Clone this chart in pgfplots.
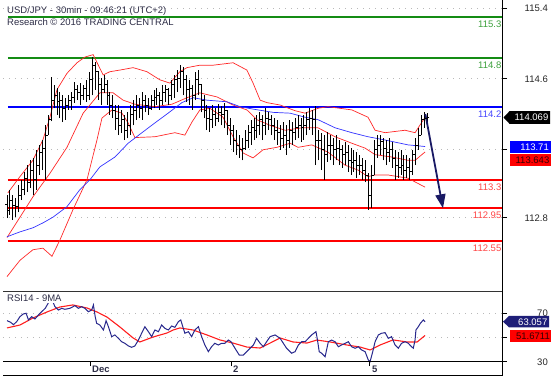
\documentclass[border=0pt]{standalone}
\usepackage{pgfplots}
\pgfplotsset{compat=1.18}
\usepackage{pgfplotstable}
\usepackage{fontspec}
\setmainfont{Liberation Sans}
\usetikzlibrary{arrows.meta}

\definecolor{lvgreen}{RGB}{20,140,20}
\definecolor{lvblue}{RGB}{0,0,255}
\definecolor{lvred}{RGB}{255,0,0}
\definecolor{bbred}{RGB}{255,40,40}
\definecolor{mablue}{RGB}{50,50,255}
\definecolor{rsinavy}{RGB}{40,40,140}
\definecolor{rsired}{RGB}{255,30,30}
\definecolor{txtdark}{RGB}{45,45,70}
\definecolor{gridgray}{RGB}{185,185,185}
\definecolor{lbgreen}{RGB}{60,160,60}
\definecolor{lbblue}{RGB}{70,70,255}
\definecolor{lbred}{RGB}{255,70,70}
\definecolor{arrownavy}{RGB}{25,25,100}
\definecolor{boxnavy}{RGB}{30,30,120}

\pgfplotstableread{
x h l o c
0 113.11 112.83 113.00 112.93
1 113.18 112.87 112.93 113.05
2 113.11 112.81 113.05 112.99
3 113.08 112.84 112.99 112.97
4 113.24 112.90 112.97 113.11
5 113.30 113.05 113.11 113.18
6 113.40 113.11 113.18 113.32
7 113.48 113.15 113.32 113.27
8 113.54 113.20 113.27 113.42
9 113.57 113.11 113.42 113.30
10 113.67 113.18 113.30 113.48
11 113.73 113.36 113.48 113.64
12 113.79 113.42 113.64 113.69
13 113.97 113.30 113.69 113.85
14 114.10 113.85 113.85 114.04
15 114.56 114.02 114.04 114.28
16 114.47 114.18 114.28 114.34
17 114.43 114.10 114.34 114.26
18 114.38 114.06 114.26 114.28
19 114.34 114.01 114.28 114.18
20 114.31 114.04 114.18 114.22
21 114.34 114.16 114.22 114.28
22 114.38 114.16 114.28 114.31
23 114.50 114.25 114.31 114.41
24 114.47 114.28 114.41 114.37
25 114.49 114.22 114.37 114.34
26 114.47 114.28 114.34 114.43
27 114.53 114.26 114.43 114.34
28 114.63 114.28 114.34 114.53
29 114.81 114.34 114.53 114.71
30 114.75 114.41 114.71 114.63
31 114.64 114.28 114.63 114.47
32 114.55 114.22 114.47 114.41
33 114.59 114.37 114.41 114.47
34 114.53 114.22 114.47 114.34
35 114.38 114.10 114.34 114.22
36 114.34 114.06 114.22 114.16
37 114.22 113.91 114.16 114.06
38 114.22 113.85 114.06 113.97
39 114.16 113.88 113.97 114.04
40 114.10 113.79 114.04 113.91
41 114.13 113.81 113.91 113.97
42 114.22 113.85 113.97 114.10
43 114.28 113.97 114.10 114.16
44 114.34 114.04 114.16 114.22
45 114.31 114.06 114.22 114.18
46 114.38 114.04 114.18 114.28
47 114.34 114.13 114.28 114.22
48 114.31 114.10 114.22 114.18
49 114.34 114.16 114.18 114.28
50 114.41 114.18 114.28 114.32
51 114.43 114.22 114.32 114.34
52 114.38 114.16 114.34 114.28
53 114.47 114.22 114.28 114.38
54 114.47 114.26 114.38 114.41
55 114.43 114.22 114.41 114.34
56 114.53 114.28 114.34 114.47
57 114.59 114.31 114.47 114.53
58 114.65 114.38 114.53 114.55
59 114.71 114.43 114.55 114.63
60 114.69 114.34 114.63 114.53
61 114.59 114.26 114.53 114.41
62 114.53 114.22 114.41 114.43
63 114.47 114.16 114.43 114.34
64 114.63 114.28 114.34 114.53
65 114.65 114.34 114.53 114.47
66 114.48 114.13 114.47 114.28
67 114.34 114.06 114.28 114.16
68 114.22 113.91 114.16 114.06
69 114.18 113.89 114.06 114.04
70 114.22 113.94 114.04 114.10
71 114.18 113.96 114.10 114.06
72 114.23 114.01 114.06 114.13
73 114.21 113.97 114.13 114.10
74 114.25 113.94 114.10 114.16
75 114.16 113.85 114.16 113.97
76 114.06 113.73 113.97 113.91
77 113.97 113.64 113.91 113.79
78 113.91 113.61 113.79 113.73
79 113.85 113.57 113.73 113.67
80 113.81 113.54 113.67 113.69
81 113.91 113.67 113.69 113.79
82 113.97 113.69 113.79 113.89
83 114.04 113.73 113.89 113.94
84 114.06 113.79 113.94 113.91
85 114.10 113.81 113.91 113.97
86 114.13 113.85 113.97 114.04
87 114.10 113.79 114.04 113.97
88 114.18 113.85 113.97 114.06
89 114.13 113.91 114.06 114.04
90 114.10 113.85 114.04 113.97
91 114.06 113.79 113.97 113.91
92 114.04 113.73 113.91 113.89
93 113.97 113.67 113.89 113.81
94 114.01 113.69 113.81 113.85
95 113.97 113.61 113.85 113.79
96 114.04 113.69 113.79 113.91
97 114.01 113.73 113.91 113.89
98 114.06 113.79 113.89 113.94
99 114.10 113.81 113.94 113.97
100 114.06 113.77 113.97 113.94
101 114.10 113.79 113.94 113.97
102 114.13 113.85 113.97 114.04
103 114.18 113.91 114.04 114.06
104 114.16 113.85 114.06 114.04
105 114.21 113.48 114.04 113.79
106 113.91 113.54 113.79 113.79
107 113.88 113.42 113.79 113.67
108 113.85 113.30 113.67 113.61
109 113.89 113.52 113.61 113.73
110 113.85 113.54 113.73 113.73
111 113.81 113.48 113.73 113.67
112 113.85 113.54 113.67 113.69
113 113.79 113.48 113.69 113.67
114 113.73 113.45 113.67 113.61
115 113.77 113.48 113.61 113.64
116 113.73 113.40 113.64 113.54
117 113.69 113.36 113.54 113.52
118 113.67 113.40 113.52 113.54
119 113.64 113.32 113.54 113.48
120 113.61 113.36 113.48 113.48
121 113.57 113.30 113.48 113.42
122 113.54 113.27 113.42 113.36
123 113.38 112.93 113.36 113.11
124 113.48 112.95 113.11 113.36
125 113.79 113.36 113.36 113.67
126 113.85 113.57 113.67 113.73
127 113.85 113.61 113.73 113.77
128 113.81 113.54 113.77 113.69
129 113.79 113.48 113.69 113.64
130 113.81 113.52 113.64 113.67
131 113.77 113.45 113.67 113.57
132 113.67 113.30 113.57 113.48
133 113.64 113.32 113.48 113.45
134 113.67 113.36 113.45 113.48
135 113.61 113.30 113.48 113.42
136 113.61 113.32 113.42 113.45
137 113.57 113.30 113.45 113.40
138 113.67 113.36 113.40 113.61
139 113.81 113.48 113.61 113.73
140 113.94 113.67 113.73 113.85
141 114.10 113.85 113.85 114.04
142 114.13 113.94 114.04 114.06
143 114.12 113.97 114.06 114.069
}\bars

\pgfplotstableread{
x y
0.3 113.14
4.4 113.34
8.8 113.54
12.2 113.79
14.6 114.07
17 114.41
20.4 114.61
23.8 114.74
26.5 114.81
29.3 114.84
32.7 114.59
35 114.63
38.4 114.65
42.9 114.68
47.6 114.63
52 114.53
55.4 114.49
58.8 114.63
61.2 114.68
65.6 114.71
70.1 114.71
76.9 114.74
81.6 114.65
83.7 114.49
86.1 114.28
88.4 114.25
92.9 114.22
98 114.15
101.4 114.12
105.8 114.18
109.2 114.20
117.3 114.16
122.8 114.07
125.2 113.91
128.6 113.88
135.4 113.91
138.8 113.88
142.2 114.07
}\bbup

\pgfplotstableread{
x y
0 112.59
8.8 113.09
14.6 113.38
20.4 113.70
25.9 114.12
31.6 114.37
36.1 114.37
39.5 114.28
43.5 114.23
50.3 114.20
56.1 114.23
61.2 114.31
65.6 114.37
71.4 114.32
76.9 114.22
81.6 114.16
85 114.04
89.5 113.97
94.6 113.91
100.3 113.94
105.8 113.94
111.6 113.83
117.3 113.75
121.8 113.69
125.2 113.61
131 113.58
136.4 113.54
138.8 113.54
142.2 113.643
}\bbmid

\pgfplotstableread{
x y
0 112.11
4.4 112.31
8.8 112.44
12.2 112.46
15.3 112.36
18 112.56
22.4 112.93
27.2 113.30
30.6 113.79
32.3 114.06
35.7 114.16
39.1 114.12
41.2 114.00
43.5 113.82
50.3 113.83
57.1 113.88
60.5 113.85
62.9 114.01
65.6 114.16
69 114.18
73.5 114.07
76.9 113.83
80.3 113.63
83.7 113.57
87.1 113.67
91.8 113.70
96.3 113.75
99 113.70
103.7 113.73
109.2 113.64
115 113.48
119.4 113.42
122.8 113.34
125.2 113.36
129.6 113.36
136.4 113.32
142.2 113.21
}\bblow

\pgfplotstableread{
x y
0 112.60
4.4 112.66
8.8 112.71
12.2 112.77
15.6 112.84
20.4 112.97
24.8 113.18
28.2 113.30
31.6 113.46
36.7 113.58
41.2 113.75
45.9 113.88
50.3 114.00
54.8 114.12
59.5 114.25
63.3 114.31
68 114.28
74.8 114.26
79.3 114.20
83.7 114.17
90.5 114.13
96.3 114.12
101.4 114.07
105.8 114.04
111.6 113.94
117.3 113.88
122.8 113.83
128.6 113.79
136.4 113.73
142.2 113.71
}\mafifty

\pgfplotstableread{
x y
0 63.9
1.2 62.6
2.2 60.6
3.3 63.1
4.4 67.2
5.5 69.4
6.5 70.0
7.3 64.5
8.4 67.2
9.5 65.3
10.7 68.6
11.8 71.3
13 74.1
14 78.3
15 83.0
16.3 75.5
17.5 72.7
18.6 74.1
19.7 73.3
21.4 74.1
23.1 76.3
24.3 74.1
25.4 75.5
26.5 74.1
27.7 71.3
28.8 72.7
29.4 76.9
30 67.2
30.5 61.7
31.6 60.3
32.8 56.2
33.7 63.9
34.5 58.9
35.6 50.7
36.7 52.1
37.9 49.3
39 46.5
40.1 45.2
41.3 43.0
42.4 41.9
43.5 43.0
44.7 47.9
45.8 53.5
46.9 58.9
48.1 54.8
49.2 50.7
50.3 56.2
51.5 54.8
52.6 60.3
53.7 57.6
54.9 56.2
56 59.5
57.1 58.4
58.3 63.1
59.1 64.5
59.8 58.9
60.5 53.5
61.7 54.8
62.8 50.7
63.9 56.2
65.1 58.9
66.2 50.7
67.3 43.8
68.5 38.3
69.6 42.4
70.7 45.2
71.9 43.8
73 45.2
74.1 45.2
75.3 47.9
76.2 46.5
77.9 39.7
79 35.5
80.4 35.5
82.1 39.7
83.8 43.8
84.9 49.3
86.1 45.2
87.2 42.4
88.3 46.5
89.5 50.7
91.2 52.1
92.9 49.3
94 45.2
95.1 41.1
96.8 37.0
98 38.3
99.1 43.8
100.2 46.5
101.4 46.5
102.5 49.3
103.6 52.1
105.1 54.8
105.6 48.0
106.2 38.3
107 37.0
108.2 34.1
109.3 46.5
110.4 47.9
111.6 46.5
112.7 42.4
113.8 43.8
115 45.2
116.1 46.5
117.2 42.4
118.4 41.1
119.5 42.4
120.6 39.7
121.8 38.3
122.9 31.4
123.5 30.0
124.4 38.3
125.2 46.5
126.3 52.1
127.4 53.5
128.6 54.0
129.7 49.3
130.8 50.7
132 43.8
133.1 41.1
134.2 45.2
135.4 46.5
136.5 45.2
137.6 42.4
138.2 41.1
138.8 48.0
139.1 56.2
139.9 58.9
140.6 61.7
141.6 64.5
142.2 63.057
}\rsi

\pgfplotstableread{
x y
0 57.9
4.4 60.3
8.8 66.1
13.6 71.1
18 75.2
22.4 76.9
27.2 74.4
30.6 71.1
34 66.9
38.4 58.7
42.9 49.6
45.2 46.3
49.7 50.4
54.4 53.7
56.5 56.2
58.8 57.9
63.3 56.2
68 52.1
72.4 48.0
76.9 45.4
81.6 42.1
86.1 41.3
89.5 45.4
92.9 49.6
97.3 46.3
102 45.4
105.4 47.9
109.9 46.3
115.6 43.8
120.1 42.1
123.5 39.7
126.9 43.8
131.3 48.0
136.1 46.3
139.5 46.3
142.2 51.6711
}\rsima

\begin{document}
\begin{tikzpicture}[font=\fontsize{9.5}{11}\selectfont]
\useasboundingbox (0pt,0pt) rectangle (557pt,379pt);

% ---------------- price panel ----------------
\begin{axis}[
  at={(3pt,88pt)}, anchor=south west, scale only axis,
  width=499pt, height=291pt,
  xmin=-1.36, xmax=168.37, ymin=111.933, ymax=115.512,
  axis line style={draw=none},
  xtick=\empty,
  ytick={112.834,113.676,114.544,115.41}, yticklabels={},
  ytick pos=right, tick align=outside, major tick length=5pt,
  tick style={black, line width=0.6pt},
  ymajorgrids, grid style={gridgray, dash pattern=on 1pt off 5pt, line width=0.8pt},
  clip=false,
]
% level lines
\addplot[lvgreen, line width=1.8pt] coordinates {(0.3,115.3) (168.37,115.3)};
\addplot[lvgreen, line width=1.8pt] coordinates {(0.3,114.8) (168.37,114.8)};
\addplot[lvblue, line width=1.8pt] coordinates {(0.3,114.2) (168.37,114.2)};
\addplot[lvred, line width=1.8pt] coordinates {(0.3,113.3) (168.37,113.3)};
\addplot[lvred, line width=1.8pt] coordinates {(0.3,112.95) (168.37,112.95)};
\addplot[lvred, line width=1.8pt] coordinates {(0.3,112.55) (168.37,112.55)};
% indicators
\addplot[bbred, line width=0.7pt] table {\bbup};
\addplot[bbred, line width=0.7pt] table {\bbmid};
\addplot[bbred, line width=0.7pt] table {\bblow};
\addplot[mablue, line width=0.7pt] table {\mafifty};
% OHLC bars
\addplot[draw=none, mark=none, error bars/.cd, y dir=plus, y explicit, error mark=none,
  error bar style={draw=black, line width=0.9pt}]
  table[x=x, y=l, y error plus expr=\thisrow{h}-\thisrow{l}] {\bars};
\addplot[only marks, mark=-, mark size=0.9pt, black, mark options={line width=0.7pt}]
  table[x expr=\thisrow{x}+0.35, y=c] {\bars};
\addplot[only marks, mark=-, mark size=0.9pt, black, mark options={line width=0.7pt}]
  table[x expr=\thisrow{x}-0.35, y=o] {\bars};
% forecast arrow
\draw[arrownavy, line width=1.8pt, -{Triangle[width=10pt,length=14pt]}]
  (axis cs:142.3,114.11) -- (axis cs:148.3,112.95);
\end{axis}

% ---------------- RSI panel ----------------
\begin{axis}[
  at={(3pt,17.3pt)}, anchor=south west, scale only axis,
  width=499pt, height=70.7pt,
  xmin=-1.36, xmax=168.37, ymin=30, ymax=88.43,
  axis line style={draw=none},
  xtick={28.2,76.2,123.2}, xticklabels={}, xtick pos=bottom,
  minor x tick num=20,
  ytick={30,50,70}, yticklabels={}, ytick pos=right,
  tick align=outside, major tick length=4.5pt, minor tick length=1.5pt,
  tick style={black, line width=0.6pt},
  minor tick style={black!70, line width=0.5pt},
  ymajorgrids, grid style={gridgray, dash pattern=on 1pt off 5pt, line width=0.8pt},
  clip=false,
]
\addplot[rsired, line width=1.1pt] table {\rsima};
\addplot[rsinavy, line width=1pt] table {\rsi};
\end{axis}

\begin{scope}[x=1pt,y=1pt]
% frame lines
\draw[black, line width=0.8pt] (502,379) -- (502,3);
\draw[black!80, line width=0.8pt] (3,88) -- (502,88);
\draw[black, line width=0.8pt] (3,17.3) -- (502,17.3);
\draw[black, line width=0.8pt] (3,3.5) -- (502,3.5);

% titles
\node[anchor=base west, inner sep=0, text=txtdark] at (7,365.7) {USD/JPY - 30min - 09:46:21 (UTC+2)};
\node[anchor=base west, inner sep=0, text=txtdark] at (7,353) {Research © 2016 TRADING CENTRAL};
\node[anchor=base west, inner sep=1pt, fill=white, text=txtdark] at (6,77) {RSI14 - 9MA};

% level labels
\node[anchor=base east, inner sep=0, text=lbgreen] at (501.5,351) {115.3};
\node[anchor=base east, inner sep=0, text=lbgreen] at (501.5,310.6) {114.8};
\node[anchor=base east, inner sep=0, text=lbblue] at (501.5,261.9) {114.2};
\node[anchor=base east, inner sep=0, text=lbred] at (501.5,188.6) {113.3};
\node[anchor=base east, inner sep=0, text=lbred] at (501.5,160.3) {112.95};
\node[anchor=base east, inner sep=0, text=lbred] at (501.5,127.6) {112.55};

% right axis labels
\node[anchor=base east, inner sep=0, text=black!85] at (548,367.6) {115.4};
\node[anchor=base east, inner sep=0, text=black!85] at (548,296.9) {114.6};
\node[anchor=base east, inner sep=0, text=black!85] at (548,157.9) {112.8};
\node[anchor=base east, inner sep=0, text=black!85] at (548,62.3) {70};
\node[anchor=base east, inner sep=0, text=black!85] at (548,13.9) {30};

% value boxes
\fill[black] (503.5,261.5) -- (509.5,267.8) -- (550,267.8) -- (550,255.2) -- (509.5,255.2) -- cycle;
\node[anchor=base east, inner sep=0, text=white] at (548.5,258.1) {114.069};
\fill[lvblue] (510,238.3) rectangle (551,225.7);
\node[anchor=base east, inner sep=0, text=white] at (549,228.6) {113.71};
\fill[lvred] (510,224.7) rectangle (551,213.3);
\node[anchor=base east, inner sep=0, text=black!80!red] at (549.5,215.6) {113.643};
\fill[boxnavy] (503,57.3) -- (509,63) -- (549,63) -- (549,51.7) -- (509,51.7) -- cycle;
\node[anchor=base east, inner sep=0, text=white] at (547.5,53.9) {63.057};
\fill[lvred] (510,49) rectangle (551,37.3);
\node[anchor=base east, inner sep=0, text=black!80!red] at (550,39.8) {51.6711};

% date labels
\node[anchor=base west, inner sep=0, text=txtdark, font=\fontsize{9.5}{11}\selectfont\bfseries] at (92,6.5) {Dec};
\node[anchor=base west, inner sep=0, text=txtdark, font=\fontsize{9.5}{11}\selectfont\bfseries] at (233,6.5) {2};
\node[anchor=base west, inner sep=0, text=txtdark, font=\fontsize{9.5}{11}\selectfont\bfseries] at (372,6.5) {5};
\end{scope}
\end{tikzpicture}
\end{document}
